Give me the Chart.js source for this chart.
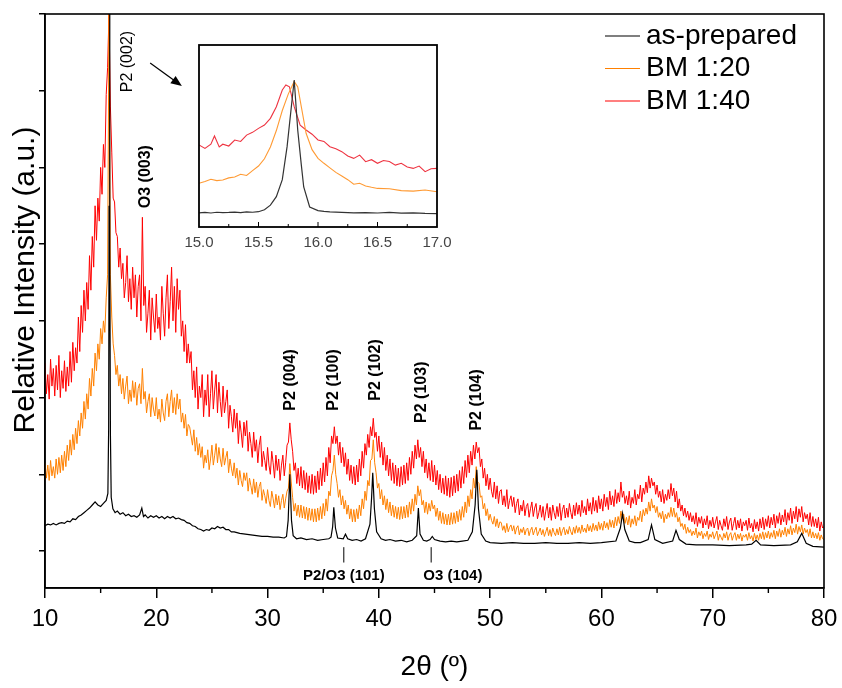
<!DOCTYPE html>
<html>
<head>
<meta charset="utf-8">
<title>XRD patterns</title>
<script src="https://cdn.jsdelivr.net/npm/chart.js@4"></script>
<style>
  html, body { margin: 0; padding: 0; background: #fff; }
  #wrap { position: relative; width: 842px; height: 688px; }
  #mainChart { position: absolute; left: 0; top: 0; }
  #insetChart { position: absolute; left: 180px; top: 40px; }
</style>
</head>
<body>
<div id="wrap">
  <canvas id="mainChart" width="842" height="688"></canvas>
  <canvas id="insetChart" width="275" height="215"></canvas>
</div>
<script>
// ---- data (relative intensity, a.u.) ----

const seriesNames = ['as-prepared', 'BM 1:20', 'BM 1:40'];

// 2θ grid shared by the two ball-milled patterns
const twoTheta = [
  10, 10.125, 10.25, 10.375, 10.5, 10.625, 10.75, 10.875,  11, 11.125, 11.25, 11.375, 11.5, 11.625, 11.75, 11.875,
  12, 12.125, 12.25, 12.375, 12.5, 12.625, 12.75, 12.875,  13, 13.125, 13.25, 13.375, 13.5, 13.625, 13.75, 13.875,
  14, 14.125, 14.25, 14.375, 14.5, 14.625, 14.75, 14.875,  15, 15.125, 15.25, 15.375, 15.5, 15.625, 15.75, 15.875,
  16, 16.125, 16.25, 16.375, 16.5, 16.625, 16.75, 16.875,  17, 17.125, 17.25, 17.375, 17.5, 17.625, 17.75, 17.875,
  18, 18.125, 18.25, 18.375, 18.5, 18.625, 18.75, 18.875,  19, 19.125, 19.25, 19.375, 19.5, 19.625, 19.75, 19.875,
  20, 20.125, 20.25, 20.375, 20.5, 20.625, 20.75, 20.875,  21, 21.125, 21.25, 21.375, 21.5, 21.625, 21.75, 21.875,
  22, 22.125, 22.25, 22.375, 22.5, 22.625, 22.75, 22.875,  23, 23.125, 23.25, 23.375, 23.5, 23.625, 23.75, 23.875,
  24, 24.125, 24.25, 24.375, 24.5, 24.625, 24.75, 24.875,  25, 25.125, 25.25, 25.375, 25.5, 25.625, 25.75, 25.875,
  26, 26.125, 26.25, 26.375, 26.5, 26.625, 26.75, 26.875,  27, 27.125, 27.25, 27.375, 27.5, 27.625, 27.75, 27.875,
  28, 28.125, 28.25, 28.375, 28.5, 28.625, 28.75, 28.875,  29, 29.125, 29.25, 29.375, 29.5, 29.625, 29.75, 29.875,
  30, 30.125, 30.25, 30.375, 30.5, 30.625, 30.75, 30.875,  31, 31.125, 31.25, 31.375, 31.5, 31.625, 31.75, 31.875,
  32, 32.125, 32.25, 32.375, 32.5, 32.625, 32.75, 32.875,  33, 33.125, 33.25, 33.375, 33.5, 33.625, 33.75, 33.875,
  34, 34.125, 34.25, 34.375, 34.5, 34.625, 34.75, 34.875,  35, 35.125, 35.25, 35.375, 35.5, 35.625, 35.75, 35.875,
  36, 36.125, 36.25, 36.375, 36.5, 36.625, 36.75, 36.875,  37, 37.125, 37.25, 37.375, 37.5, 37.625, 37.75, 37.875,
  38, 38.125, 38.25, 38.375, 38.5, 38.625, 38.75, 38.875,  39, 39.125, 39.25, 39.375, 39.5, 39.625, 39.75, 39.875,
  40, 40.125, 40.25, 40.375, 40.5, 40.625, 40.75, 40.875,  41, 41.125, 41.25, 41.375, 41.5, 41.625, 41.75, 41.875,
  42, 42.125, 42.25, 42.375, 42.5, 42.625, 42.75, 42.875,  43, 43.125, 43.25, 43.375, 43.5, 43.625, 43.75, 43.875,
  44, 44.125, 44.25, 44.375, 44.5, 44.625, 44.75, 44.875,  45, 45.125, 45.25, 45.375, 45.5, 45.625, 45.75, 45.875,
  46, 46.125, 46.25, 46.375, 46.5, 46.625, 46.75, 46.875,  47, 47.125, 47.25, 47.375, 47.5, 47.625, 47.75, 47.875,
  48, 48.125, 48.25, 48.375, 48.5, 48.625, 48.75, 48.875,  49, 49.125, 49.25, 49.375, 49.5, 49.625, 49.75, 49.875,
  50, 50.125, 50.25, 50.375, 50.5, 50.625, 50.75, 50.875,  51, 51.125, 51.25, 51.375, 51.5, 51.625, 51.75, 51.875,
  52, 52.125, 52.25, 52.375, 52.5, 52.625, 52.75, 52.875,  53, 53.125, 53.25, 53.375, 53.5, 53.625, 53.75, 53.875,
  54, 54.125, 54.25, 54.375, 54.5, 54.625, 54.75, 54.875,  55, 55.125, 55.25, 55.375, 55.5, 55.625, 55.75, 55.875,
  56, 56.125, 56.25, 56.375, 56.5, 56.625, 56.75, 56.875,  57, 57.125, 57.25, 57.375, 57.5, 57.625, 57.75, 57.875,
  58, 58.125, 58.25, 58.375, 58.5, 58.625, 58.75, 58.875,  59, 59.125, 59.25, 59.375, 59.5, 59.625, 59.75, 59.875,
  60, 60.125, 60.25, 60.375, 60.5, 60.625, 60.75, 60.875,  61, 61.125, 61.25, 61.375, 61.5, 61.625, 61.75, 61.875,
  62, 62.125, 62.25, 62.375, 62.5, 62.625, 62.75, 62.875,  63, 63.125, 63.25, 63.375, 63.5, 63.625, 63.75, 63.875,
  64, 64.125, 64.25, 64.375, 64.5, 64.625, 64.75, 64.875,  65, 65.125, 65.25, 65.375, 65.5, 65.625, 65.75, 65.875,
  66, 66.125, 66.25, 66.375, 66.5, 66.625, 66.75, 66.875,  67, 67.125, 67.25, 67.375, 67.5, 67.625, 67.75, 67.875,
  68, 68.125, 68.25, 68.375, 68.5, 68.625, 68.75, 68.875,  69, 69.125, 69.25, 69.375, 69.5, 69.625, 69.75, 69.875,
  70, 70.125, 70.25, 70.375, 70.5, 70.625, 70.75, 70.875,  71, 71.125, 71.25, 71.375, 71.5, 71.625, 71.75, 71.875,
  72, 72.125, 72.25, 72.375, 72.5, 72.625, 72.75, 72.875,  73, 73.125, 73.25, 73.375, 73.5, 73.625, 73.75, 73.875,
  74, 74.125, 74.25, 74.375, 74.5, 74.625, 74.75, 74.875,  75, 75.125, 75.25, 75.375, 75.5, 75.625, 75.75, 75.875,
  76, 76.125, 76.25, 76.375, 76.5, 76.625, 76.75, 76.875,  77, 77.125, 77.25, 77.375, 77.5, 77.625, 77.75, 77.875,
  78, 78.125, 78.25, 78.375, 78.5, 78.625, 78.75, 78.875,  79, 79.125, 79.25, 79.375, 79.5, 79.625, 79.75, 79.875,
  80
];

// BM 1:40 (one row per degree)
const bm40Counts = [
  2.45, 2.05, 2.3, 1.98, 2.5, 2.15, 2.38, 2.02,     2.42, 2.1, 2.55, 2.0, 2.35, 2.12, 2.48, 2.08,
  2.4, 2.15, 2.6, 2.2, 2.72, 2.35, 2.65, 2.45,      3.05, 2.6, 3.2, 2.85, 3.4, 3.0, 3.5, 3.15,
  3.85, 3.4, 4.1, 3.7, 4.5, 4.05, 4.6, 4.3,         5.0, 4.65, 5.3, 5.0, 5.95, 6.3, 7.0, 5.8,
  5.2, 4.6, 4.55, 4.15, 4.1, 3.7, 3.95, 3.55,       3.75, 3.3, 3.5, 3.85, 3.25, 3.55, 3.15, 3.7,
  3.3, 3.6, 3.05, 3.45, 3.6, 3.0, 4.35, 3.2,        3.45, 2.85, 3.1, 3.4, 2.75, 3.3, 3.05, 2.85,
  3.35, 2.9, 3.05, 2.75, 3.45, 3.1, 2.8, 3.3,       3.6, 2.9, 3.25, 3.7, 3.0, 3.45, 2.85, 3.55,
  3.15, 3.4, 2.8, 3.0, 2.6, 2.95, 2.45, 2.7,        2.45, 2.6, 2.1, 2.35, 2.0, 2.4, 1.85, 2.15,
  2.0, 2.3, 1.75, 2.1, 1.9, 2.3, 1.75, 2.05,        2.35, 1.85, 2.1, 2.3, 1.8, 2.2, 1.95, 1.75,
  2.15, 1.8, 1.95, 2.1, 1.6, 1.9, 1.75, 1.55,       1.85, 1.6, 1.8, 1.4, 1.7, 1.55, 1.35, 1.68,
  1.5, 1.7, 1.3, 1.55, 1.4, 1.22, 1.55, 1.3,        1.45, 1.15, 1.38, 1.5, 1.1, 1.3, 1.18, 1.05,
  1.35, 1.12, 1.0, 1.3, 1.15, 0.95, 1.25, 1.05,     1.2, 0.92, 1.12, 1.25, 0.98, 1.15, 1.38, 1.42,
  1.67, 1.45, 1.3, 1.05, 1.15, 0.88, 1.08, 0.85,    1.1, 0.82, 1.05, 0.8, 1.02, 0.76, 0.98, 0.75,
  1.0, 0.74, 0.98, 0.76, 1.04, 0.8, 1.08, 0.85,     1.15, 0.9, 1.22, 0.98, 1.35, 1.15, 1.5, 1.4,
  1.62, 1.4, 1.5, 1.25, 1.42, 1.15, 1.35, 1.1,      1.28, 1.0, 1.2, 0.92, 1.12, 0.88, 1.1, 0.86,
  1.12, 0.9, 1.2, 0.98, 1.3, 1.08, 1.4, 1.25,       1.52, 1.35, 1.62, 1.5, 1.73, 1.48, 1.55, 1.3,
  1.5, 1.22, 1.42, 1.12, 1.35, 1.05, 1.25, 0.98,    1.2, 0.92, 1.15, 0.88, 1.12, 0.85, 1.08, 0.84,
  1.1, 0.86, 1.12, 0.88, 1.15, 0.92, 1.22, 1.0,     1.3, 1.08, 1.38, 1.2, 1.45, 1.22, 1.35, 1.1,
  1.3, 1.02, 1.2, 0.95, 1.15, 0.92, 1.18, 0.9,      1.12, 0.86, 1.05, 0.8, 1.0, 0.76, 0.95, 0.74,
  0.98, 0.72, 0.95, 0.7, 0.96, 0.72, 0.98, 0.76,    1.0, 0.78, 1.05, 0.82, 1.1, 0.88, 1.18, 0.96,
  1.25, 1.02, 1.3, 1.12, 1.38, 1.2, 1.42, 1.28,     1.35, 1.1, 1.2, 0.95, 1.08, 0.85, 1.0, 0.8,
  0.95, 0.78, 0.7, 0.9, 0.68, 0.85, 0.62, 0.78,     0.8, 0.6, 0.72, 0.58, 0.8, 0.55, 0.66, 0.72,
  0.58, 0.7, 0.5, 0.62, 0.68, 0.47, 0.6, 0.52,      0.66, 0.46, 0.58, 0.62, 0.44, 0.55, 0.64, 0.45,
  0.56, 0.62, 0.42, 0.5, 0.6, 0.44, 0.58, 0.4,      0.52, 0.62, 0.43, 0.57, 0.4, 0.6, 0.5, 0.42,
  0.58, 0.45, 0.62, 0.4, 0.54, 0.6, 0.43, 0.56,     0.44, 0.62, 0.5, 0.42, 0.6, 0.46, 0.63, 0.48,
  0.6, 0.45, 0.66, 0.5, 0.58, 0.47, 0.68, 0.52,     0.63, 0.48, 0.7, 0.52, 0.66, 0.5, 0.72, 0.55,
  0.68, 0.52, 0.74, 0.58, 0.7, 0.54, 0.78, 0.6,     0.72, 0.58, 0.8, 0.62, 0.76, 0.64, 0.9, 0.7,
  0.78, 0.62, 0.72, 0.6, 0.78, 0.56, 0.7, 0.62,     0.8, 0.6, 0.74, 0.68, 0.86, 0.64, 0.82, 0.74,
  0.9, 0.76, 0.98, 0.82, 0.95, 0.85, 0.9, 0.74,     0.86, 0.7, 0.78, 0.64, 0.8, 0.62, 0.74, 0.66,
  0.8, 0.68, 0.88, 0.72, 0.82, 0.64, 0.78, 0.56,    0.68, 0.52, 0.6, 0.46, 0.56, 0.44, 0.52, 0.4,
  0.5, 0.38, 0.46, 0.35, 0.5, 0.32, 0.44, 0.36,     0.45, 0.3, 0.42, 0.34, 0.46, 0.29, 0.4, 0.32,
  0.44, 0.3, 0.38, 0.45, 0.28, 0.4, 0.33, 0.27,     0.42, 0.32, 0.45, 0.28, 0.38, 0.43, 0.27, 0.36,
  0.44, 0.28, 0.4, 0.3, 0.42, 0.26, 0.38, 0.33,     0.4, 0.27, 0.43, 0.3, 0.36, 0.25, 0.41, 0.29,
  0.38, 0.26, 0.42, 0.3, 0.44, 0.28, 0.42, 0.32,    0.46, 0.3, 0.44, 0.34, 0.48, 0.3, 0.46, 0.36,
  0.5, 0.34, 0.47, 0.38, 0.54, 0.34, 0.5, 0.4,      0.56, 0.36, 0.52, 0.42, 0.58, 0.38, 0.55, 0.44,
  0.58, 0.38, 0.5, 0.42, 0.48, 0.34, 0.5, 0.32,     0.45, 0.32, 0.42, 0.3, 0.44, 0.26, 0.38, 0.3,
  0.32
];

// BM 1:20 (one row per degree)
const bm20Counts = [
  1.15, 0.95, 1.12, 0.92, 1.18, 0.98, 1.1, 0.95,    1.2, 1.0, 1.22, 1.02, 1.25, 1.05, 1.3, 1.1,
  1.38, 1.18, 1.45, 1.25, 1.52, 1.32, 1.6, 1.4,     1.7, 1.5, 1.8, 1.6, 1.95, 1.72, 2.05, 1.85,
  2.25, 2.02, 2.38, 2.15, 2.58, 2.35, 2.7, 2.5,     2.9, 2.7, 3.0, 2.85, 3.3, 3.6, 7.0, 3.6,
  3.05, 2.7, 2.55, 2.3, 2.42, 2.15, 2.3, 2.05,      2.25, 1.98, 2.15, 2.28, 1.92, 2.1, 1.95, 2.22,
  2.0, 2.2, 1.9, 2.12, 2.18, 1.92, 2.38, 1.98,      2.08, 1.8, 1.95, 2.05, 1.75, 2.0, 1.85, 1.76,
  2.0, 1.72, 1.85, 1.68, 1.98, 1.8, 1.7, 1.95,      2.05, 1.75, 1.95, 2.1, 1.8, 2.0, 1.78, 2.05,
  1.85, 1.98, 1.68, 1.8, 1.6, 1.78, 1.5, 1.65,      1.62, 1.5, 1.38, 1.58, 1.3, 1.48, 1.25, 1.4,
  1.22, 1.36, 1.08, 1.25, 1.15, 1.32, 1.06, 1.2,    1.38, 1.12, 1.25, 1.4, 1.15, 1.35, 1.2, 1.1,
  1.34, 1.12, 1.22, 1.3, 1.02, 1.2, 1.08, 0.98,     1.15, 0.95, 1.08, 0.86, 1.05, 0.92, 0.84, 1.02,
  0.92, 1.02, 0.78, 0.95, 0.85, 0.74, 0.94, 0.76,   0.9, 0.7, 0.84, 0.9, 0.66, 0.8, 0.72, 0.62,
  0.8, 0.66, 0.58, 0.78, 0.68, 0.56, 0.74, 0.6,     0.72, 0.54, 0.66, 0.74, 0.56, 0.68, 0.78, 0.82,
  1.14, 0.9, 0.7, 0.52, 0.62, 0.46, 0.6, 0.44,      0.6, 0.43, 0.58, 0.42, 0.57, 0.4, 0.56, 0.4,
  0.55, 0.38, 0.55, 0.38, 0.56, 0.4, 0.58, 0.42,    0.62, 0.46, 0.68, 0.52, 0.78, 0.72, 0.98, 1.05,
  1.25, 1.0, 0.88, 0.7, 0.8, 0.6, 0.72, 0.55,       0.66, 0.48, 0.6, 0.42, 0.55, 0.38, 0.54, 0.38,
  0.55, 0.42, 0.6, 0.46, 0.68, 0.55, 0.78, 0.66,    0.92, 0.85, 1.18, 1.2, 1.45, 1.15, 1.02, 0.82,
  0.88, 0.68, 0.8, 0.6, 0.72, 0.54, 0.68, 0.5,      0.64, 0.46, 0.6, 0.44, 0.58, 0.42, 0.57, 0.41,
  0.58, 0.42, 0.58, 0.43, 0.6, 0.44, 0.64, 0.48,    0.68, 0.52, 0.74, 0.6, 0.85, 0.72, 0.8, 0.6,
  0.66, 0.5, 0.64, 0.48, 0.62, 0.52, 0.66, 0.55,    0.6, 0.45, 0.56, 0.4, 0.52, 0.36, 0.5, 0.35,
  0.48, 0.34, 0.48, 0.34, 0.5, 0.35, 0.5, 0.36,     0.52, 0.38, 0.54, 0.4, 0.58, 0.44, 0.64, 0.5,
  0.72, 0.58, 0.8, 0.68, 0.95, 0.82, 1.1, 0.9,      0.88, 0.7, 0.72, 0.55, 0.62, 0.46, 0.55, 0.4,
  0.48, 0.4, 0.35, 0.45, 0.32, 0.42, 0.3, 0.38,     0.37, 0.27, 0.33, 0.24, 0.36, 0.25, 0.31, 0.34,
  0.26, 0.33, 0.22, 0.3, 0.33, 0.21, 0.29, 0.24,    0.31, 0.21, 0.28, 0.3, 0.2, 0.27, 0.31, 0.21,
  0.27, 0.31, 0.2, 0.25, 0.3, 0.21, 0.28, 0.19,     0.25, 0.31, 0.2, 0.28, 0.19, 0.3, 0.24, 0.2,
  0.29, 0.21, 0.31, 0.2, 0.27, 0.31, 0.21, 0.28,    0.22, 0.32, 0.25, 0.21, 0.31, 0.23, 0.33, 0.24,
  0.31, 0.23, 0.34, 0.25, 0.3, 0.24, 0.35, 0.26,    0.33, 0.25, 0.36, 0.27, 0.34, 0.26, 0.38, 0.28,
  0.36, 0.27, 0.39, 0.3, 0.37, 0.28, 0.41, 0.31,    0.4, 0.3, 0.44, 0.33, 0.45, 0.36, 0.52, 0.42,
  0.48, 0.36, 0.44, 0.34, 0.46, 0.31, 0.42, 0.35,   0.46, 0.33, 0.44, 0.4, 0.52, 0.38, 0.54, 0.46,
  0.56, 0.48, 0.64, 0.52, 0.68, 0.56, 0.6, 0.5,     0.58, 0.44, 0.5, 0.42, 0.52, 0.37, 0.48, 0.42,
  0.5, 0.44, 0.57, 0.45, 0.56, 0.44, 0.5, 0.38,     0.44, 0.32, 0.36, 0.28, 0.35, 0.23, 0.31, 0.24,
  0.28, 0.2, 0.26, 0.21, 0.3, 0.17, 0.25, 0.2,      0.26, 0.16, 0.23, 0.19, 0.26, 0.15, 0.22, 0.18,
  0.25, 0.16, 0.21, 0.26, 0.14, 0.22, 0.18, 0.14,   0.23, 0.17, 0.25, 0.14, 0.21, 0.24, 0.14, 0.2,
  0.24, 0.14, 0.22, 0.16, 0.23, 0.13, 0.21, 0.18,   0.22, 0.14, 0.24, 0.16, 0.2, 0.13, 0.23, 0.15,
  0.21, 0.14, 0.23, 0.16, 0.25, 0.15, 0.24, 0.17,   0.26, 0.16, 0.24, 0.18, 0.27, 0.16, 0.26, 0.19,
  0.29, 0.18, 0.27, 0.21, 0.31, 0.19, 0.29, 0.22,   0.33, 0.21, 0.3, 0.24, 0.35, 0.22, 0.32, 0.25,
  0.34, 0.22, 0.3, 0.24, 0.28, 0.19, 0.29, 0.17,   0.25, 0.17, 0.23, 0.16, 0.24, 0.14, 0.21, 0.16,
  0.15
];

// as-prepared pattern: sharp peaks, own 2θ sampling
const asPrepAngle = [
  10, 10.25, 10.5, 10.75, 11, 11.25, 11.5, 11.75, 12, 12.25, 12.5, 12.75, 13, 13.25, 13.5, 13.75,
  14, 14.25, 14.5, 14.75, 15, 15.25, 15.5, 15.65, 15.72, 15.76, 15.8, 15.84, 15.88, 15.95,
  16.1, 16.3, 16.5, 16.75, 17, 17.25, 17.5, 17.75, 18, 18.25, 18.5, 18.7, 18.85, 19, 19.25, 19.5, 19.75,
  20, 20.25, 20.5, 20.75, 21, 21.25, 21.5, 21.75, 22, 22.25, 22.5, 22.75, 23, 23.25, 23.5, 23.75,
  24, 24.25, 24.5, 24.75, 25, 25.25, 25.5, 25.75, 26, 26.25, 26.5, 26.75, 27, 27.5, 28, 28.5,
  29, 29.5, 30, 30.5, 31, 31.5, 31.7, 31.85, 32, 32.15, 32.3, 32.6, 33, 33.5, 34, 34.5,
  35, 35.5, 35.7, 35.85, 35.95, 36.1, 36.3, 36.8, 37, 37.2, 37.6, 38, 38.4, 38.8, 39.2, 39.35,
  39.45, 39.6, 39.8, 40.2, 40.6, 41, 41.5, 42, 42.5, 43, 43.4, 43.55, 43.7, 44, 44.3, 44.6,
  44.8, 45, 45.5, 46, 46.5, 47, 47.5, 48, 48.4, 48.65, 48.8, 48.95, 49.2, 49.6, 50, 51,
  52, 53, 54, 55, 56, 57, 58, 59, 60, 61.3, 61.7, 61.9, 62.1, 62.5, 63, 63.5,
  64.2, 64.5, 64.8, 65.5, 66.4, 66.7, 67, 67.6, 68.5, 70, 71.5, 73, 73.5, 73.9, 74.3, 75.5,
  77, 77.6, 78, 78.4, 79, 80
];
const asPrepCounts = [
  0.33, 0.35, 0.34, 0.36, 0.34, 0.36, 0.37, 0.36, 0.39, 0.38, 0.42, 0.41, 0.45, 0.47, 0.5, 0.53,
  0.56, 0.6, 0.64, 0.6, 0.58, 0.62, 0.66, 0.75, 1.6, 4.5, 7.0, 4.0, 1.5, 0.7,
  0.55, 0.5, 0.52, 0.48, 0.5, 0.46, 0.48, 0.45, 0.46, 0.44, 0.47, 0.56, 0.45, 0.47, 0.43, 0.46, 0.44,
  0.46, 0.43, 0.45, 0.42, 0.45, 0.43, 0.45, 0.42, 0.43, 0.41, 0.4, 0.37, 0.36, 0.33, 0.32, 0.29,
  0.28, 0.26, 0.28, 0.27, 0.3, 0.29, 0.32, 0.3, 0.31, 0.28, 0.28, 0.25, 0.25, 0.23, 0.22, 0.21,
  0.2, 0.19, 0.19, 0.18, 0.18, 0.17, 0.19, 0.4, 1.0, 0.4, 0.2, 0.16, 0.17, 0.15, 0.16, 0.14,
  0.15, 0.16, 0.18, 0.32, 0.57, 0.3, 0.17, 0.16, 0.22, 0.16, 0.14, 0.15, 0.13, 0.16, 0.35, 0.7,
  1.02, 0.55, 0.25, 0.16, 0.14, 0.15, 0.13, 0.14, 0.12, 0.14, 0.2, 0.56, 0.22, 0.14, 0.13, 0.15,
  0.19, 0.15, 0.13, 0.12, 0.13, 0.12, 0.13, 0.14, 0.25, 0.6, 1.06, 0.55, 0.22, 0.13, 0.11, 0.1,
  0.11, 0.1, 0.1, 0.11, 0.1, 0.1, 0.11, 0.1, 0.11, 0.13, 0.3, 0.49, 0.28, 0.13, 0.11, 0.11,
  0.15, 0.34, 0.15, 0.1, 0.13, 0.27, 0.15, 0.09, 0.08, 0.08, 0.07, 0.08, 0.09, 0.14, 0.08, 0.07,
  0.08, 0.12, 0.23, 0.1, 0.06, 0.05
];

const xTickValues = [10, 20, 30, 40, 50, 60, 70, 80];
const xMinorValues = [15, 25, 35, 45, 55, 65, 75];
const yTickValues = [0, 1, 2, 3, 4, 5, 6, 7];

// peak assignments (label, 2θ and level of the label centre)
const peakLabels = ['P2 (002)', 'O3 (003)', 'P2 (004)', 'P2 (100)', 'P2 (102)', 'P2 (103)', 'P2 (104)'];
const peakLabelAngle = [17.45, 19.05, 32.1, 35.9, 39.75, 43.8, 48.75];
const peakLabelLevel = [6.38, 4.88, 2.23, 2.23, 2.36, 2.07, 1.97];

const minorLabels = ['P2/O3 (101)', 'O3 (104)'];
const minorMarkAngle = [36.85, 44.7];
const minorLabelAngle = [36.85, 46.65];

// inset: zoom on the P2 (002) reflection (normalised)
const insetTicks = [15.0, 15.5, 16.0, 16.5, 17.0];
const insetAngleA = [15.0, 15.05, 15.1, 15.15, 15.2, 15.25, 15.3, 15.35, 15.4, 15.45, 15.5, 15.55, 15.6, 15.65, 15.7, 15.74,
  15.8, 15.83, 15.86, 15.88, 15.93, 16.0, 16.05, 16.1, 16.2, 16.3, 16.4, 16.5, 16.6, 16.7, 16.8, 16.9, 17.0];
const insetA = [0.078, 0.08, 0.077, 0.081, 0.079, 0.08, 0.082, 0.079, 0.083, 0.081, 0.084, 0.095, 0.12, 0.167, 0.26, 0.44,
  0.808, 0.53, 0.34, 0.22, 0.11, 0.09, 0.086, 0.083, 0.08, 0.078, 0.079, 0.077, 0.08, 0.076, 0.078, 0.075, 0.074];
const insetAngleB = [15.0, 15.05, 15.1, 15.15, 15.2, 15.25, 15.3, 15.35, 15.4, 15.45, 15.5, 15.55, 15.6, 15.65, 15.7, 15.75,
  15.8, 15.83, 15.86, 15.9, 15.95, 16.0, 16.05, 16.1, 16.15, 16.2, 16.25, 16.3, 16.35, 16.4, 16.45, 16.5, 16.6, 16.7, 16.8, 16.9, 17.0];
const insetB = [0.24, 0.25, 0.262, 0.255, 0.258, 0.27, 0.275, 0.29, 0.283, 0.31, 0.335, 0.375, 0.44, 0.53, 0.64, 0.73,
  0.8, 0.77, 0.66, 0.515, 0.425, 0.377, 0.35, 0.325, 0.3, 0.28, 0.26, 0.235, 0.24, 0.225, 0.218, 0.212, 0.21, 0.2, 0.197, 0.203, 0.194];
const insetAngleC = [15.0, 15.05, 15.1, 15.13, 15.17, 15.2, 15.25, 15.3, 15.35, 15.4, 15.45, 15.5, 15.55, 15.6, 15.65, 15.7,
  15.73, 15.76, 15.8, 15.85, 15.9, 15.95, 16.0, 16.05, 16.1, 16.15, 16.2, 16.25, 16.3, 16.35, 16.4, 16.45, 16.5, 16.55,
  16.6, 16.65, 16.7, 16.75, 16.8, 16.85, 16.9, 16.95, 17.0];
const insetC = [0.451, 0.432, 0.455, 0.5, 0.44, 0.455, 0.445, 0.478, 0.47, 0.505, 0.52, 0.542, 0.56, 0.597, 0.661, 0.753,
  0.78, 0.77, 0.661, 0.56, 0.533, 0.51, 0.478, 0.47, 0.441, 0.43, 0.414, 0.39, 0.377, 0.395, 0.359, 0.37, 0.35, 0.365,
  0.36, 0.34, 0.35, 0.33, 0.322, 0.335, 0.304, 0.32, 0.322];

// ---- helpers ----
const FONT = "'Liberation Sans', Arial, sans-serif";
const colors = ['#000000', '#ff8000', '#ff0000'];

function toPoints(xs, ys) {
  return xs.map((v, i) => ({ x: v, y: ys[i] }));
}

function lineSet(label, xs, ys, color, width) {
  return {
    label: label,
    data: toPoints(xs, ys),
    borderColor: color,
    borderWidth: width,
    pointRadius: 0,
    tension: 0,
    fill: false
  };
}

function drawVText(ctx, text, x, y, font) {
  ctx.save();
  ctx.translate(x, y);
  ctx.rotate(-Math.PI / 2);
  ctx.font = font;
  ctx.textAlign = 'center';
  ctx.textBaseline = 'middle';
  ctx.fillText(text, 0, 0);
  ctx.restore();
}

// ---- main chart decorations: frame, minor ticks, titles, labels, legend ----
const mainDecor = {
  id: 'mainDecor',
  afterDatasetsDraw(chart) {
    const { ctx, chartArea: a, scales: { x, y } } = chart;
    ctx.save();
    ctx.strokeStyle = '#000';
    ctx.fillStyle = '#000';
    ctx.lineWidth = 1.6;
    ctx.strokeRect(a.left, a.top, a.right - a.left, a.bottom - a.top);

    ctx.lineWidth = 1.4;
    xMinorValues.forEach(v => {
      const px = x.getPixelForValue(v);
      ctx.beginPath();
      ctx.moveTo(px, a.bottom);
      ctx.lineTo(px, a.bottom + 5);
      ctx.stroke();
    });

    // axis titles
    ctx.font = '28px ' + FONT;
    ctx.textAlign = 'center';
    ctx.textBaseline = 'middle';
    ctx.fillText('2θ (º)', (a.left + a.right) / 2, 667);
    drawVText(ctx, 'Relative Intensity (a.u.)', 26, 280, '30px ' + FONT);

    // peak labels
    peakLabels.forEach((t, i) => {
      const weight = i === 0 ? '' : 'bold ';
      drawVText(ctx, t, x.getPixelForValue(peakLabelAngle[i]), y.getPixelForValue(peakLabelLevel[i]), weight + '16px ' + FONT);
    });

    // weak reflections marked below the patterns
    ctx.lineWidth = 1;
    minorLabels.forEach((t, i) => {
      const px = x.getPixelForValue(minorMarkAngle[i]);
      ctx.beginPath();
      ctx.moveTo(px, y.getPixelForValue(0.05));
      ctx.lineTo(px, y.getPixelForValue(-0.15));
      ctx.stroke();
      ctx.font = 'bold 15px ' + FONT;
      ctx.textAlign = 'center';
      ctx.textBaseline = 'middle';
      ctx.fillText(t, x.getPixelForValue(minorLabelAngle[i]), y.getPixelForValue(-0.33));
    });

    // arrow pointing to the inset
    const x0 = x.getPixelForValue(19.45), y0 = y.getPixelForValue(6.36);
    const x1 = x.getPixelForValue(22.3), y1 = y.getPixelForValue(6.06);
    const ang = Math.atan2(y1 - y0, x1 - x0);
    ctx.lineWidth = 1.2;
    ctx.beginPath();
    ctx.moveTo(x0, y0);
    ctx.lineTo(x1 - 6 * Math.cos(ang), y1 - 6 * Math.sin(ang));
    ctx.stroke();
    ctx.beginPath();
    ctx.moveTo(x1, y1);
    ctx.lineTo(x1 - 11 * Math.cos(ang) + 4.5 * Math.sin(ang), y1 - 11 * Math.sin(ang) - 4.5 * Math.cos(ang));
    ctx.lineTo(x1 - 11 * Math.cos(ang) - 4.5 * Math.sin(ang), y1 - 11 * Math.sin(ang) + 4.5 * Math.cos(ang));
    ctx.closePath();
    ctx.fill();

    // legend
    ctx.font = '28px ' + FONT;
    ctx.textAlign = 'left';
    ctx.textBaseline = 'middle';
    chart.data.datasets.forEach((ds, i) => {
      const ly = 36 + i * 32.5;
      ctx.strokeStyle = ds.borderColor;
      ctx.lineWidth = 1.2;
      ctx.beginPath();
      ctx.moveTo(605, ly);
      ctx.lineTo(640, ly);
      ctx.stroke();
      ctx.fillStyle = '#000';
      ctx.fillText(ds.label, 646, ly);
    });
    ctx.restore();
  }
};

new Chart(document.getElementById('mainChart'), {
  type: 'line',
  data: {
    datasets: [
      lineSet(seriesNames[0], asPrepAngle, asPrepCounts, colors[0], 1.2),
      lineSet(seriesNames[1], twoTheta, bm20Counts, colors[1], 1),
      lineSet(seriesNames[2], twoTheta, bm40Counts, colors[2], 1)
    ]
  },
  options: {
    responsive: false,
    animation: false,
    layout: { padding: { left: 0, right: 18, top: 14, bottom: 40 } },
    plugins: { legend: { display: false }, tooltip: { enabled: false } },
    scales: {
      x: {
        type: 'linear',
        min: 10,
        max: 80,
        afterBuildTicks: s => { s.ticks = xTickValues.map(v => ({ value: v })); },
        afterFit: s => { s.height = 60; s.paddingLeft = 0; s.paddingRight = 0; },
        ticks: { font: { family: FONT, size: 24 }, color: '#000', padding: 7, maxRotation: 0 },
        grid: { drawOnChartArea: false, tickLength: 10, color: '#000', lineWidth: 1.5 },
        border: { display: true, color: '#000', width: 1.6 }
      },
      y: {
        min: -0.482,
        max: 7,
        afterBuildTicks: s => { s.ticks = yTickValues.map(v => ({ value: v })); },
        afterFit: s => { s.width = 45; },
        ticks: { display: false },
        grid: { drawOnChartArea: false, tickLength: 6, color: '#000', lineWidth: 1.5 },
        border: { display: true, color: '#000', width: 1.6 }
      }
    }
  },
  plugins: [mainDecor]
});

// ---- inset ----
const insetDecor = {
  id: 'insetDecor',
  beforeDatasetsDraw(chart) {
    const { ctx, chartArea: a } = chart;
    ctx.save();
    ctx.fillStyle = '#fff';
    ctx.fillRect(a.left, a.top, a.right - a.left, a.bottom - a.top);
    ctx.restore();
  },
  afterDatasetsDraw(chart) {
    const { ctx, chartArea: a, scales: { x } } = chart;
    ctx.save();
    ctx.strokeStyle = '#000';
    ctx.lineWidth = 1.8;
    ctx.strokeRect(a.left, a.top, a.right - a.left, a.bottom - a.top);
    ctx.lineWidth = 1;
    [15.25, 15.5, 15.75, 16.0, 16.25, 16.5, 16.75].forEach(v => {
      const px = x.getPixelForValue(v);
      const len = (v * 2) % 1 === 0 ? 5 : 3;
      ctx.beginPath();
      ctx.moveTo(px, a.bottom);
      ctx.lineTo(px, a.bottom - len);
      ctx.stroke();
    });
    ctx.restore();
  }
};

new Chart(document.getElementById('insetChart'), {
  type: 'line',
  data: {
    datasets: [
      lineSet(seriesNames[0], insetAngleA, insetA, '#333333', 1.2),
      lineSet(seriesNames[1], insetAngleB, insetB, '#ff9a33', 1.1),
      lineSet(seriesNames[2], insetAngleC, insetC, '#ee3340', 1.1)
    ]
  },
  options: {
    responsive: false,
    animation: false,
    layout: { padding: { left: 0, right: 18, top: 5, bottom: 0 } },
    plugins: { legend: { display: false }, tooltip: { enabled: false } },
    scales: {
      x: {
        type: 'linear',
        min: 15,
        max: 17,
        afterBuildTicks: s => { s.ticks = insetTicks.map(v => ({ value: v })); },
        afterFit: s => { s.height = 28; s.paddingLeft = 0; s.paddingRight = 0; },
        ticks: { font: { family: FONT, size: 15 }, color: '#444', padding: 7, maxRotation: 0,
                 callback: v => Number(v).toFixed(1) },
        grid: { display: false, drawTicks: false },
        border: { display: false }
      },
      y: {
        min: 0,
        max: 1,
        afterFit: s => { s.width = 19; },
        ticks: { display: false },
        grid: { display: false, drawTicks: false },
        border: { display: false }
      }
    }
  },
  plugins: [insetDecor]
});
</script>
</body>
</html>
